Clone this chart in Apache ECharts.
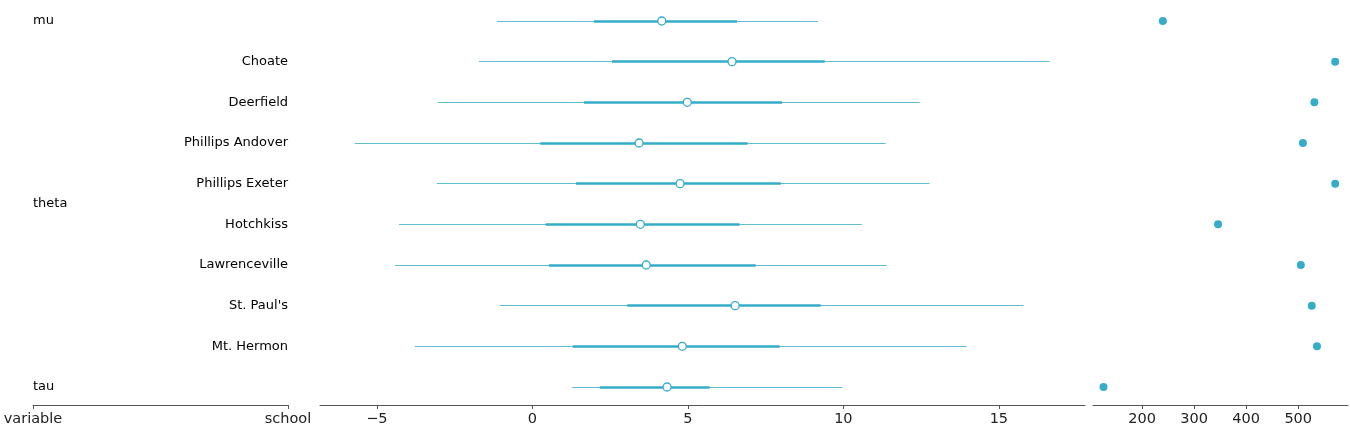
<!DOCTYPE html>
<html>
<head>
<meta charset="utf-8">
<script src="https://cdn.jsdelivr.net/npm/echarts@6/dist/echarts.min.js"></script>
<style>
  html, body { margin: 0; padding: 0; background: #fff; }
  #chart { width: 1350px; height: 430px; }
</style>
</head>
<body>
<div id="chart"></div>
<script>
// rows top to bottom: mu, theta[8 schools], tau
const schools = ['', 'Choate', 'Deerfield', 'Phillips Andover', 'Phillips Exeter', 'Hotchkiss', 'Lawrenceville', "St. Paul's", 'Mt. Hermon', ''];
const variables = ['mu', 'theta', 'tau'];
const variableRows = [0, 4.5, 9];

// thin line (94% hdi)
const lower = [-1.14, -1.72, -3.04, -5.71, -3.07, -4.29, -4.42, -1.05, -3.78, 1.28];
const upper = [9.18, 16.63, 12.45, 11.36, 12.77, 10.59, 11.39, 15.79, 13.96, 9.97];
// thick line (interquartile)
const innerLower = [1.98, 2.56, 1.66, 0.25, 1.40, 0.43, 0.53, 3.05, 1.30, 2.17];
const innerUpper = [6.58, 9.40, 8.03, 6.92, 7.99, 6.66, 7.18, 9.27, 7.95, 5.70];
const medians = [4.16, 6.42, 4.98, 3.43, 4.75, 3.47, 3.66, 6.52, 4.82, 4.33];
// effective sample size
const ess = [240, 571, 531, 509, 571, 346, 505, 526, 536, 126];

const forestTicks = [-5, 0, 5, 10, 15];
const essTicks = [200, 300, 400, 500];
const labelTicks = ['variable', 'school'];

const color = '#35adc8';
const thinColor = '#5dbdd3';
const font = 'DejaVu Sans';

const chart = echarts.init(document.getElementById('chart'));

const rowAxis = (i) => ({
  type: 'value', gridIndex: i, inverse: true, min: -0.516, max: 9.443,
  show: false
});

const bottomAxis = (i, min, max, ticks, fmt) => ({
  type: 'value', gridIndex: i, min: min, max: max,
  splitLine: { show: false },
  axisLine: { show: true, onZero: false, lineStyle: { color: '#555', width: 1 } },
  axisTick: { show: true, length: 4, customValues: ticks, lineStyle: { color: '#555' } },
  axisLabel: {
    customValues: ticks, margin: 7, color: '#222', fontSize: 14.5, fontFamily: font,
    formatter: fmt
  }
});

const thinLines = lower.map((v, i) => ({ coords: [[v, i], [upper[i], i]] }));
const thickLines = innerLower.map((v, i) => ({ coords: [[v, i], [innerUpper[i], i]] }));

const rowLabel = (pos) => ({
  show: true, position: pos, distance: 0, formatter: '{b}',
  color: '#000', fontSize: 13, fontFamily: font
});

chart.setOption({
  animation: false,
  grid: [
    { left: 33, width: 255, top: 0, height: 405 },
    { left: 320, width: 765, top: 0, height: 405 },
    { left: 1093, width: 255, top: 0, height: 405 }
  ],
  xAxis: [
    bottomAxis(0, 0, 1, [0, 1], (v) => labelTicks[Math.round(v)]),
    bottomAxis(1, -6.83, 17.77, forestTicks, (v) => String(v).replace('-', '\u2212')),
    bottomAxis(2, 105.8, 595.6, essTicks, (v) => String(v))
  ],
  yAxis: [rowAxis(0), rowAxis(1), rowAxis(2)],
  series: [
    {
      type: 'scatter', xAxisIndex: 0, yAxisIndex: 0, symbolSize: 0,
      itemStyle: { opacity: 1 },
      data: schools.map((s, i) => ({ value: [1, i], name: s })).filter((d) => d.name),
      label: rowLabel('left')
    },
    {
      type: 'scatter', xAxisIndex: 0, yAxisIndex: 0, symbolSize: 0,
      itemStyle: { opacity: 1 },
      data: variables.map((s, i) => ({ value: [0, variableRows[i]], name: s })),
      label: rowLabel('right')
    },
    {
      type: 'lines', coordinateSystem: 'cartesian2d', xAxisIndex: 1, yAxisIndex: 1,
      data: thinLines, lineStyle: { color: thinColor, width: 1.1, opacity: 1 }
    },
    {
      type: 'lines', coordinateSystem: 'cartesian2d', xAxisIndex: 1, yAxisIndex: 1,
      data: thickLines, lineStyle: { color: color, width: 2.5, opacity: 1 }
    },
    {
      type: 'scatter', xAxisIndex: 1, yAxisIndex: 1, symbol: 'circle', symbolSize: 8,
      data: medians.map((v, i) => [v, i]),
      itemStyle: { color: '#fff', borderColor: color, borderWidth: 1.3, opacity: 1 }
    },
    {
      type: 'scatter', xAxisIndex: 2, yAxisIndex: 2, symbol: 'circle', symbolSize: 8,
      data: ess.map((v, i) => [v, i]),
      itemStyle: { color: color, opacity: 1 }
    }
  ]
});
</script>
</body>
</html>
